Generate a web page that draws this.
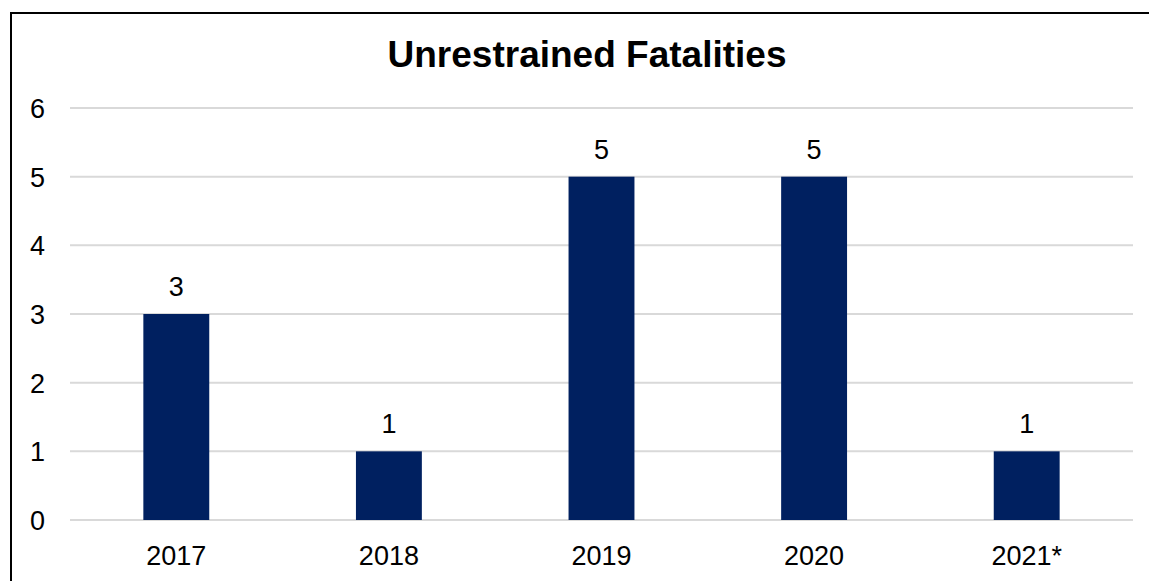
<!DOCTYPE html>
<html>
<head>
<meta charset="utf-8">
<script src="https://cdn.jsdelivr.net/npm/d3@7"></script>
<style>
  body { margin: 0; background: #fff; }
  svg { display: block; font-family: "Liberation Sans", Arial, sans-serif; }
</style>
</head>
<body>
<div id="chart"></div>
<script>
const years = ['2017', '2018', '2019', '2020', '2021*'];
const fatalities = [3, 1, 5, 5, 1];
const yTicks = [0, 1, 2, 3, 4, 5, 6];

const size = { width: 1149, height: 581 };
const margin = { left: 70, right: 16, top: 108, bottom: 61 };

const svg = d3
  .select('#chart')
  .append('svg')
  .attr('width', size.width)
  .attr('height', size.height);

// outer frame (only top/left edges fall inside the picture)
svg
  .append('rect')
  .attr('x', 11)
  .attr('y', 13)
  .attr('width', size.width + 10)
  .attr('height', size.height + 10)
  .attr('fill', 'none')
  .attr('stroke', '#000')
  .attr('stroke-width', 2);

const x = d3
  .scaleBand()
  .domain(years)
  .range([margin.left, size.width - margin.right])
  .paddingInner(0.69)
  .paddingOuter(0.345);

const y = d3
  .scaleLinear()
  .domain([0, 6])
  .range([size.height - margin.bottom, margin.top]);

svg
  .append('text')
  .text('Unrestrained Fatalities')
  .attr('x', 587)
  .attr('y', 67)
  .attr('text-anchor', 'middle')
  .style('font-weight', 'bold')
  .style('font-size', '37px')
  .attr('fill', '#000');

const grid = svg.append('g');
yTicks.forEach((t) => {
  grid
    .append('line')
    .attr('x1', margin.left)
    .attr('x2', size.width - margin.right)
    .attr('y1', y(t))
    .attr('y2', y(t))
    .attr('stroke', '#d9d9d9')
    .attr('stroke-width', 2);

  grid
    .append('text')
    .text(t)
    .attr('x', 45)
    .attr('y', y(t) + 10)
    .attr('text-anchor', 'end')
    .style('font-size', '27px')
    .attr('fill', '#000');
});

svg
  .selectAll('.bar')
  .data(fatalities)
  .join('rect')
  .attr('class', 'bar')
  .attr('x', (d, i) => x(years[i]))
  .attr('width', x.bandwidth())
  .attr('y', (d) => y(d))
  .attr('height', (d) => y(0) - y(d))
  .attr('fill', '#002060');

svg
  .selectAll('.val')
  .data(fatalities)
  .join('text')
  .attr('class', 'val')
  .text((d) => d)
  .attr('x', (d, i) => x(years[i]) + x.bandwidth() / 2)
  .attr('y', (d) => y(d) - 18)
  .attr('text-anchor', 'middle')
  .style('font-size', '27px')
  .attr('fill', '#000');

svg
  .selectAll('.xlab')
  .data(years)
  .join('text')
  .attr('class', 'xlab')
  .text((d) => d)
  .attr('x', (d) => x(d) + x.bandwidth() / 2)
  .attr('y', 565)
  .attr('text-anchor', 'middle')
  .style('font-size', '27px')
  .attr('fill', '#000');
</script>
</body>
</html>
